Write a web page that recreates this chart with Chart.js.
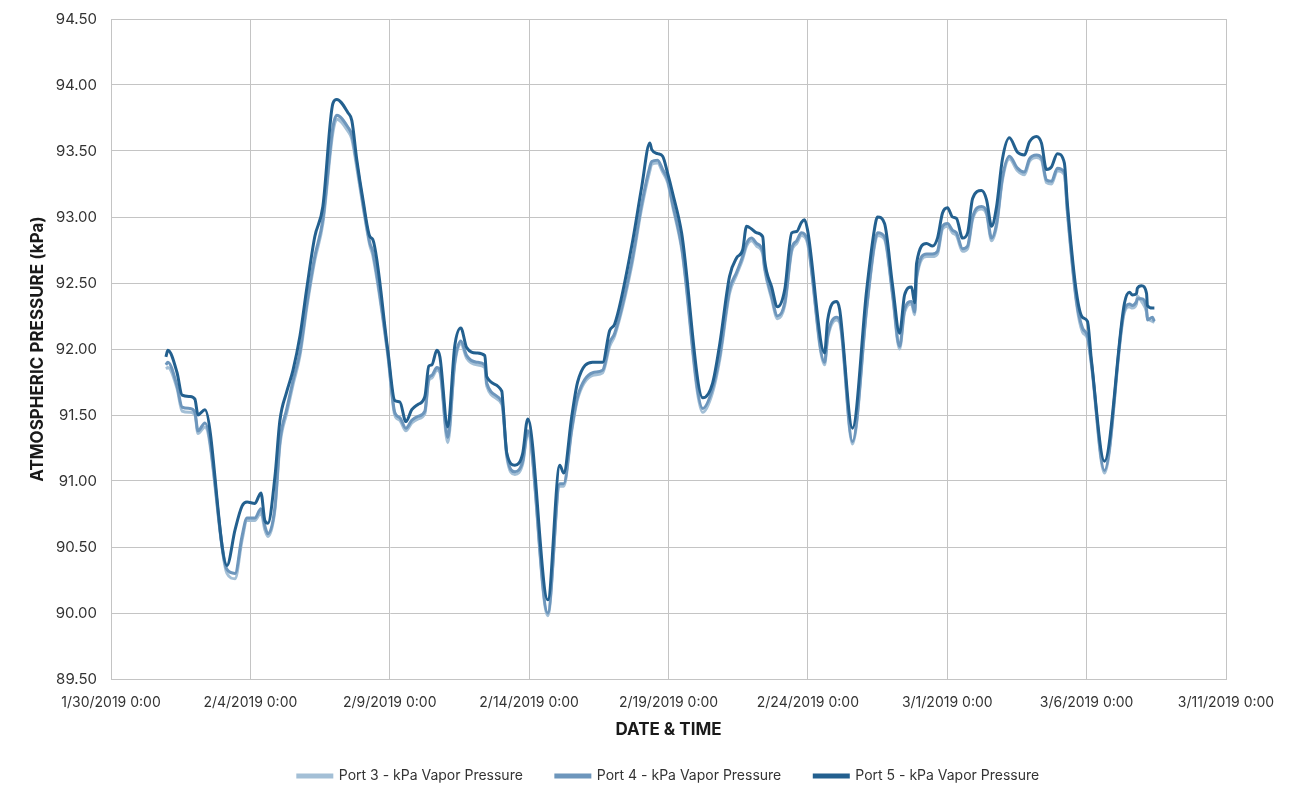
<!DOCTYPE html>
<html>
<head>
<meta charset="utf-8">
<title>Atmospheric Pressure</title>
<script src="https://cdn.jsdelivr.net/npm/chart.js@4.4.1/dist/chart.umd.min.js"></script>
<style>
  body { margin: 0; background: #ffffff; }
  #chartBox { width: 1293px; height: 790px; position: relative; }
</style>
</head>
<body>
<div id="chartBox"><canvas id="myChart"></canvas></div>
<script>
// days after 1/30/2019 0:00
let days = [
  1.97, 2.04, 2.37, 2.55, 2.83, 3.01, 3.12, 3.37, 4.16, 4.45,
  4.70, 4.88, 5.16, 5.38, 5.52, 5.63, 5.88, 6.06, 6.31, 6.53,
  6.78, 7.03, 7.31, 7.60, 7.96, 8.10, 8.50, 8.64, 8.82, 9.04,
  9.29, 9.39, 9.93, 10.18, 10.36, 10.58, 10.79, 11.01, 11.26, 11.40,
  11.51, 11.69, 11.80, 12.08, 12.33, 12.55, 12.76, 13.12, 13.41, 13.48,
  14.02, 14.06, 14.20, 14.49, 14.77, 14.95, 15.67, 16.10, 16.24, 16.53,
  16.74, 17.28, 17.64, 17.89, 18.07, 18.68, 19.04, 19.33, 19.40, 19.61,
  19.79, 19.97, 20.15, 20.47, 21.23, 21.58, 21.84, 22.19, 22.44, 22.66,
  22.80, 22.98, 23.16, 23.38, 23.45, 23.70, 23.91, 24.17, 24.42, 24.60,
  24.77, 24.88, 24.99, 25.60, 25.71, 26.03, 26.14, 26.60, 27.11, 27.39,
  27.50, 27.75, 28.04, 28.29, 28.47, 28.72, 28.83, 28.90, 29.26, 29.47,
  29.65, 29.83, 30.01, 30.19, 30.33, 30.55, 30.73, 30.91, 31.23, 31.41,
  31.59, 31.77, 31.98, 32.23, 32.52, 32.77, 32.95, 33.20, 33.38, 33.56,
  33.74, 33.95, 34.20, 34.31, 34.64, 34.85, 35.03, 35.17, 35.64, 36.36,
  36.54, 36.64, 36.79, 36.82, 36.97, 37.15, 37.18, 37.36, 37.43
];

let port5 = [
  91.94, 91.99, 91.82, 91.65, 91.64, 91.62, 91.50, 91.54, 90.36, 90.63,
  90.81, 90.84, 90.83, 90.91, 90.70, 90.68, 91.03, 91.46, 91.68, 91.84,
  92.10, 92.47, 92.85, 93.08, 93.86, 93.89, 93.79, 93.73, 93.43, 93.13,
  92.85, 92.83, 91.99, 91.61, 91.60, 91.45, 91.54, 91.58, 91.64, 91.87,
  91.88, 91.99, 91.94, 91.41, 92.02, 92.16, 92.01, 91.97, 91.95, 91.79,
  91.68, 91.59, 91.21, 91.12, 91.21, 91.47, 90.10, 91.12, 91.06, 91.49,
  91.75, 91.90, 91.90, 92.14, 92.19, 92.78, 93.23, 93.56, 93.51, 93.48,
  93.46, 93.33, 93.18, 92.88, 91.63, 91.74, 92.04, 92.55, 92.69, 92.75,
  92.93, 92.91, 92.88, 92.85, 92.67, 92.47, 92.32, 92.45, 92.88, 92.89,
  92.96, 92.98, 92.90, 91.97, 92.22, 92.36, 92.30, 91.40, 92.45, 92.91,
  93.00, 92.95, 92.48, 92.12, 92.41, 92.47, 92.35, 92.65, 92.80, 92.78,
  92.84, 93.03, 93.07, 93.00, 92.99, 92.84, 92.88, 93.14, 93.20, 93.13,
  92.93, 93.08, 93.44, 93.60, 93.49, 93.47, 93.57, 93.61, 93.56, 93.36,
  93.38, 93.48, 93.41, 93.10, 92.42, 92.24, 92.21, 91.92, 91.15, 92.35,
  92.43, 92.41, 92.42, 92.46, 92.48, 92.42, 92.33, 92.31, 92.31
];

let port4 = [
  91.88, 91.90, 91.72, 91.56, 91.55, 91.52, 91.38, 91.44, 90.33, 90.30,
  90.58, 90.72, 90.72, 90.79, 90.66, 90.60, 90.80, 91.30, 91.55, 91.76,
  91.98, 92.35, 92.70, 92.98, 93.68, 93.77, 93.68, 93.62, 93.40, 93.10,
  92.80, 92.74, 91.97, 91.52, 91.48, 91.40, 91.46, 91.49, 91.53, 91.78,
  91.80, 91.86, 91.84, 91.33, 91.90, 92.06, 91.95, 91.90, 91.88, 91.74,
  91.60, 91.55, 91.20, 91.07, 91.15, 91.38, 90.00, 90.98, 90.98, 91.40,
  91.64, 91.82, 91.84, 92.05, 92.12, 92.66, 93.10, 93.38, 93.42, 93.43,
  93.36, 93.28, 93.10, 92.78, 91.55, 91.70, 91.95, 92.45, 92.58, 92.70,
  92.80, 92.84, 92.80, 92.74, 92.62, 92.40, 92.25, 92.35, 92.76, 92.82,
  92.88, 92.87, 92.82, 91.90, 92.10, 92.24, 92.22, 91.30, 92.32, 92.80,
  92.88, 92.85, 92.42, 92.02, 92.30, 92.36, 92.28, 92.55, 92.72, 92.72,
  92.74, 92.93, 92.95, 92.90, 92.88, 92.76, 92.78, 93.00, 93.08, 93.04,
  92.84, 92.95, 93.30, 93.46, 93.37, 93.34, 93.44, 93.47, 93.45, 93.28,
  93.27, 93.37, 93.34, 93.05, 92.36, 92.16, 92.10, 91.90, 91.08, 92.30,
  92.34, 92.33, 92.36, 92.38, 92.38, 92.30, 92.22, 92.24, 92.21
];

let port3 = [
  91.85, 91.86, 91.70, 91.53, 91.52, 91.50, 91.36, 91.41, 90.30, 90.26,
  90.55, 90.70, 90.70, 90.76, 90.63, 90.58, 90.78, 91.27, 91.52, 91.73,
  91.95, 92.32, 92.67, 92.95, 93.64, 93.74, 93.65, 93.59, 93.37, 93.08,
  92.78, 92.71, 91.95, 91.50, 91.46, 91.38, 91.44, 91.47, 91.51, 91.76,
  91.78, 91.84, 91.82, 91.29, 91.88, 92.04, 91.93, 91.88, 91.86, 91.72,
  91.58, 91.53, 91.18, 91.05, 91.13, 91.36, 89.98, 90.96, 90.96, 91.38,
  91.62, 91.80, 91.82, 92.02, 92.10, 92.63, 93.07, 93.35, 93.40, 93.41,
  93.34, 93.26, 93.08, 92.76, 91.52, 91.67, 91.92, 92.42, 92.56, 92.68,
  92.78, 92.82, 92.78, 92.72, 92.60, 92.38, 92.23, 92.33, 92.74, 92.80,
  92.86, 92.85, 92.80, 91.88, 92.08, 92.22, 92.20, 91.28, 92.30, 92.78,
  92.86, 92.83, 92.40, 92.00, 92.28, 92.34, 92.26, 92.53, 92.70, 92.70,
  92.72, 92.91, 92.93, 92.88, 92.86, 92.74, 92.76, 92.98, 93.06, 93.02,
  92.82, 92.93, 93.28, 93.44, 93.35, 93.32, 93.42, 93.45, 93.43, 93.26,
  93.25, 93.35, 93.32, 93.03, 92.34, 92.13, 92.08, 91.88, 91.06, 92.28,
  92.32, 92.31, 92.34, 92.40, 92.36, 92.28, 92.24, 92.21, 92.20
];

let seriesNames = [
  "Port 3 - kPa Vapor Pressure",
  "Port 4 - kPa Vapor Pressure",
  "Port 5 - kPa Vapor Pressure"
];
let seriesColors = ["#a3bfd6", "#6d96bc", "#23608f"];

function toPoints(values) {
  let points = [];
  for (let i = 0; i < days.length; i++) {
    points.push({ x: days[i], y: values[i] });
  }
  return points;
}

function dateLabel(value) {
  let d = new Date(2019, 0, 30 + value);
  return `${d.getMonth() + 1}/${d.getDate()}/${d.getFullYear()} 0:00`;
}

function makeDataset(i, values) {
  return {
    label: seriesNames[i],
    data: toPoints(values),
    borderColor: seriesColors[i],
    backgroundColor: seriesColors[i],
    borderWidth: 3,
    pointRadius: 0,
    cubicInterpolationMode: "monotone",
    order: 3 - i,
  };
}

function canvas() {
  const ctx = document.getElementById("myChart");
  let gridColor = "#c4c4c4";

  new Chart(ctx, {
    type: "line",
    data: {
      datasets: [
        makeDataset(0, port3),
        makeDataset(1, port4),
        makeDataset(2, port5),
      ],
    },
    options: {
      responsive: true,
      maintainAspectRatio: false,
      animation: false,
      layout: { padding: { left: 0, right: 67, top: 19, bottom: -3 } },
      plugins: {
        tooltip: { enabled: false },
        legend: {
          position: "bottom",
          fullSize: false,
          labels: {
            boxWidth: 34,
            boxHeight: 2,
            padding: 33,
            color: "#333333",
            font: { family: "Inter", size: 14 },
            sort: (a, b) => a.datasetIndex - b.datasetIndex,
          },
        },
      },
      scales: {
        x: {
          type: "linear",
          min: 0,
          max: 40,
          afterFit: (scale) => {
            scale.height = 57;
          },
          ticks: {
            stepSize: 5,
            maxRotation: 0,
            autoSkip: false,
            padding: 15,
            color: "#333333",
            font: { family: "Inter", size: 14 },
            callback: (value) => dateLabel(value),
          },
          grid: { color: gridColor, drawTicks: false },
          border: { color: gridColor },
          title: {
            display: true,
            text: "DATE & TIME",
            color: "#1a1a1a",
            padding: { top: 0, bottom: -4.2 },
            font: { family: "Inter", size: 17, weight: "bold" },
          },
        },
        y: {
          min: 89.5,
          max: 94.5,
          afterFit: (scale) => {
            scale.width = 111;
            scale.paddingTop = 9;
            scale.paddingBottom = 9;
          },
          ticks: {
            stepSize: 0.5,
            padding: 14,
            color: "#333333",
            font: { family: "Inter", size: 15 },
            callback: (value) => value.toFixed(2),
          },
          grid: { color: gridColor, drawTicks: false },
          border: { color: gridColor },
          title: {
            display: true,
            text: "ATMOSPHERIC PRESSURE (kPa)",
            color: "#1a1a1a",
            padding: { top: 28, bottom: 0 },
            font: { family: "Inter", size: 17, weight: "bold" },
          },
        },
      },
    },
  });
}

canvas();
</script>
</body>
</html>
